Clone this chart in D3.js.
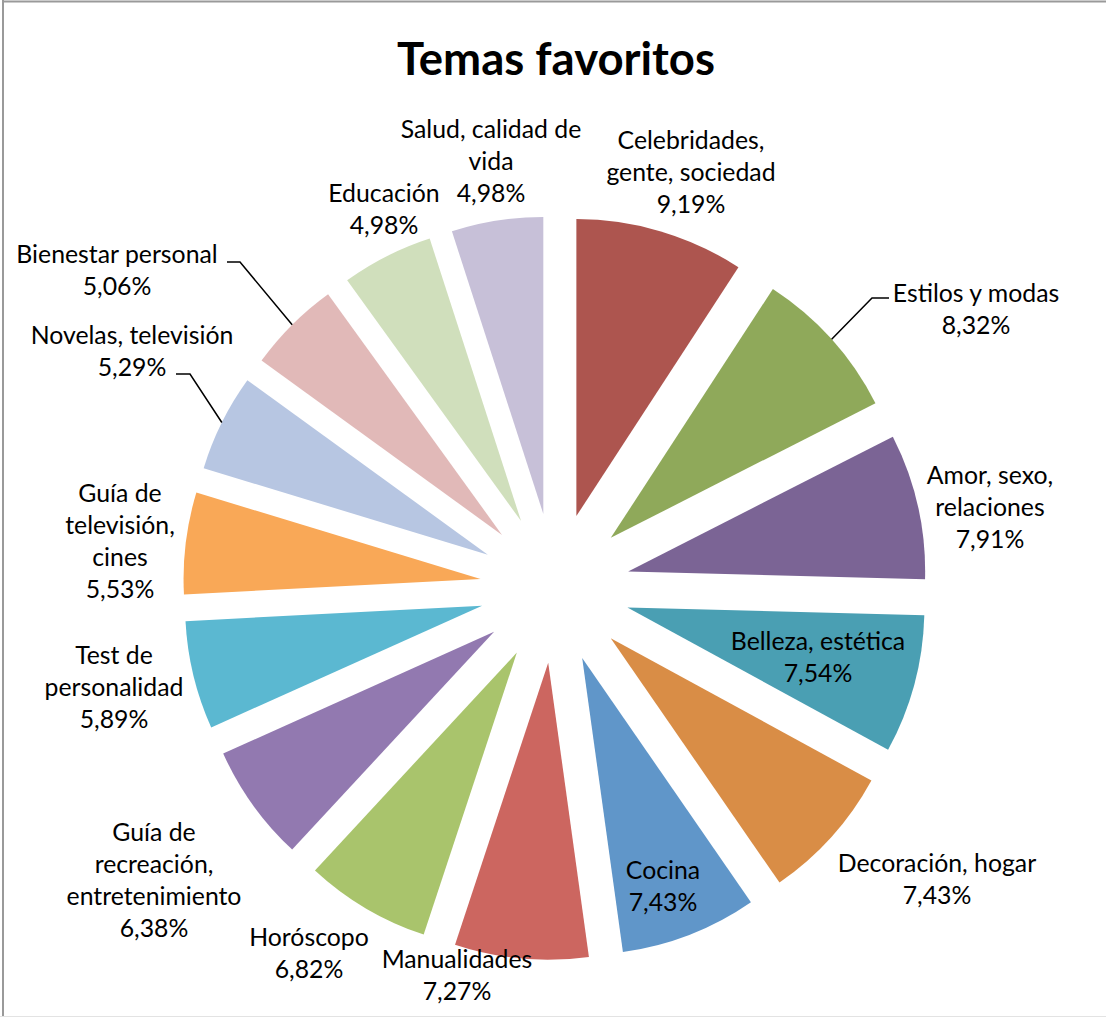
<!DOCTYPE html>
<html>
<head>
<meta charset="utf-8">
<script src="https://cdn.jsdelivr.net/npm/d3@7"></script>
<style>
  html, body { margin: 0; padding: 0; background: #fff; }
  svg { display: block; }
</style>
</head>
<body>
<svg id="chart" width="1106" height="1018"></svg>
<script>
// Topics and their share of preferences (%)
const categories = [
  "Celebridades, gente, sociedad", "Estilos y modas", "Amor, sexo, relaciones",
  "Belleza, estética", "Decoración, hogar", "Cocina", "Manualidades", "Horóscopo",
  "Guía de recreación, entretenimiento", "Test de personalidad",
  "Guía de televisión, cines", "Novelas, televisión", "Bienestar personal",
  "Educación", "Salud, calidad de vida"
];
const values = [9.19, 8.32, 7.91, 7.54, 7.43, 7.43, 7.27, 6.82, 6.38, 5.89, 5.53, 5.29, 5.06, 4.98, 4.98];
const valueLabels = ["9,19%", "8,32%", "7,91%", "7,54%", "7,43%", "7,43%", "7,27%", "6,82%",
                     "6,38%", "5,89%", "5,53%", "5,29%", "5,06%", "4,98%", "4,98%"];
const colors = ["#AD554F", "#8FA95A", "#7B6495", "#4A9FB3", "#D98D46", "#6096C9", "#CC6660",
                "#A9C46C", "#9279B0", "#5BB8D1", "#F9A857", "#B7C6E2", "#E1B9B8", "#D0DFBC", "#C7C0D8"];

// Label text lines and placement for each slice
const labelLines = [
  ["Celebridades,", "gente, sociedad"], ["Estilos y modas"], ["Amor, sexo,", "relaciones"],
  ["Belleza, estética"], ["Decoración, hogar"], ["Cocina"], ["Manualidades"], ["Horóscopo"],
  ["Guía de", "recreación,", "entretenimiento"], ["Test de", "personalidad"],
  ["Guía de", "televisión,", "cines"], ["Novelas, televisión"], ["Bienestar personal"],
  ["Educación"], ["Salud, calidad de", "vida"]
];
const labelPos = [
  [691, 139], [976, 292], [990, 474], [818, 640], [937, 862], [663, 869], [457, 958],
  [309, 936], [154, 831], [114, 654], [120, 492], [132, 334], [117, 253], [384, 192], [491, 128]
];
// Leader lines: [slice index, elbow x, elbow y, end x]
const leaders = [[1, 872, 298, 889], [11, 190, 374, 176], [12, 240, 262, 227]];

const W = 1106, H = 1018;
const cx = 555, cy = 588, R = 297, explode = 75, lineH = 32;

const svg = d3.select("#chart");

// chart frame
svg.append("line").attr("x1", 2).attr("x2", W).attr("y1", 1.5).attr("y2", 1.5)
  .attr("stroke", "#9a9a9a").attr("stroke-width", 2);
svg.append("line").attr("x1", 3).attr("x2", 3).attr("y1", 0).attr("y2", 1017)
  .attr("stroke", "#9a9a9a").attr("stroke-width", 2);
svg.append("line").attr("x1", 0).attr("x2", W).attr("y1", 1016.5).attr("y2", 1016.5)
  .attr("stroke", "#e3e3e3").attr("stroke-width", 1);

svg.append("text")
  .attr("x", 556).attr("y", 75)
  .attr("text-anchor", "middle")
  .attr("font-family", "Lato, 'Open Sans', sans-serif")
  .attr("font-weight", "bold")
  .attr("font-size", 45.5)
  .attr("fill", "#000")
  .text("Temas favoritos");

const pie = d3.pie().sort(null).value(d => d)(values);
const arc = d3.arc().innerRadius(0).outerRadius(R);

const g = svg.append("g").attr("transform", `translate(${cx},${cy})`);

const mid = d => (d.startAngle + d.endAngle) / 2;
const dirOf = a => [Math.sin(a), -Math.cos(a)];

g.selectAll("path.slice")
  .data(pie)
  .join("path")
  .attr("class", "slice")
  .attr("d", arc)
  .attr("fill", (d, i) => colors[i])
  .attr("transform", d => {
    const [dx, dy] = dirOf(mid(d));
    return `translate(${dx * explode},${dy * explode})`;
  });

// leader lines from the slice's outer edge
leaders.forEach(([i, ex, ey, tx]) => {
  const [dx, dy] = dirOf(mid(pie[i]));
  const sx = cx + dx * (R + explode), sy = cy + dy * (R + explode);
  svg.append("polyline")
    .attr("points", `${sx},${sy} ${ex},${ey} ${tx},${ey}`)
    .attr("fill", "none")
    .attr("stroke", "#000")
    .attr("stroke-width", 1.5);
});

// data labels
const labels = svg.append("g")
  .attr("font-family", "Lato, 'Open Sans', sans-serif")
  .attr("font-size", 24.8)
  .attr("fill", "#000")
  .attr("text-anchor", "middle");

categories.forEach((c, i) => {
  const lines = labelLines[i].concat([valueLabels[i]]);
  const t = labels.append("text")
    .attr("x", labelPos[i][0])
    .attr("y", labelPos[i][1])
    .attr("dominant-baseline", "central");
  lines.forEach((ln, k) => {
    t.append("tspan")
      .attr("x", labelPos[i][0])
      .attr("y", labelPos[i][1] + k * lineH)
      .text(ln);
  });
});
</script>
</body>
</html>
